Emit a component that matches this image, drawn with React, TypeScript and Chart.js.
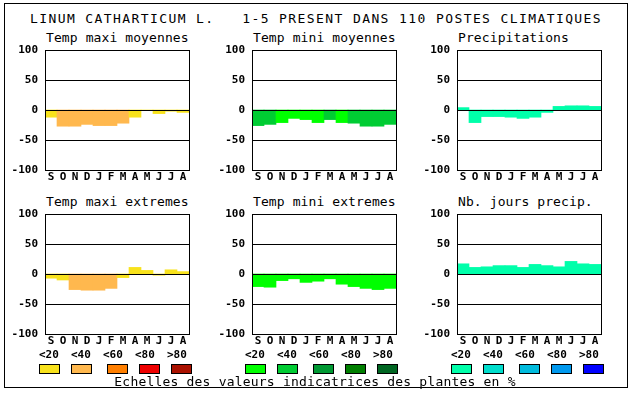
import React, { useEffect, useRef } from 'react';
import { Chart, registerables } from 'chart.js';

Chart.register(...registerables);

// ---------- data ----------
const months = ['S', 'O', 'N', 'D', 'J', 'F', 'M', 'A', 'M', 'J', 'J', 'A'];
const yTickStep = 50;
const yMin = -100;
const yMax = 100;

const tempMaxiMoy = [-12, -27, -27, -24, -26, -26, -22, -12, 0, -6, -2, -4];
const tempMaxiMoyClass = [0, 1, 1, 1, 1, 1, 1, 0, 0, 0, 0, 0];

const tempMiniMoy = [-26, -24, -21, -14, -16, -21, -16, -21, -22, -27, -27, -24];
const tempMiniMoyClass = [1, 1, 0, 0, 0, 0, 1, 0, 1, 1, 1, 1];

const precip = [4, -21, -11, -11, -12, -14, -12, -4, 6, 7, 7, 6];
const precipClass = [0, 0, 0, 0, 0, 0, 0, 0, 0, 0, 0, 0];

const tempMaxiExt = [-7, -10, -26, -27, -27, -24, -6, 11, 6, -2, 7, 4];
const tempMaxiExtClass = [0, 0, 1, 1, 1, 1, 0, 0, 0, 0, 0, 0];

const tempMiniExt = [-21, -22, -11, -8, -14, -12, -8, -17, -21, -24, -26, -24];
const tempMiniExtClass = [0, 0, 0, 0, 0, 0, 0, 0, 0, 0, 0, 0];

const nbJoursPrecip = [17, 11, 12, 14, 14, 11, 16, 14, 12, 21, 17, 16];
const nbJoursPrecipClass = [0, 0, 0, 0, 0, 0, 0, 0, 0, 0, 0, 0];

const tempColors = ['#f8e21c', '#ffb84e', '#ff7f00', '#ee0000', '#aa1100'];
const greenColors = ['#00ff00', '#00cc33', '#009933', '#007f00', '#006622'];
const blueColors = ['#00ffaa', '#00ddcc', '#00bbdd', '#0099ee', '#0000ff'];
const legendLabels = ['<20', '<40', '<60', '<80', '>80'];

const mainTitle = 'LINUM CATHARTICUM L.   1-5 PRESENT DANS 110 POSTES CLIMATIQUES';
const footer = 'Echelles des valeurs indicatrices des plantes en %';

// ---------- layout ----------
const PLOT_W = 144;
const PLOT_H = 120;
const YW = 40;
const PAD_T = 15;
const PAD_R = 3;
const XH = 18;

const panels = [
  { title: 'Temp maxi moyennes', values: tempMaxiMoy, classes: tempMaxiMoyClass, palette: tempColors, left: 45, top: 50 },
  { title: 'Temp mini moyennes', values: tempMiniMoy, classes: tempMiniMoyClass, palette: greenColors, left: 252, top: 50 },
  { title: 'Precipitations', values: precip, classes: precipClass, palette: blueColors, left: 457, top: 50 },
  { title: 'Temp maxi extremes', values: tempMaxiExt, classes: tempMaxiExtClass, palette: tempColors, left: 45, top: 214 },
  { title: 'Temp mini extremes', values: tempMiniExt, classes: tempMiniExtClass, palette: greenColors, left: 252, top: 214 },
  { title: 'Nb. jours precip.', values: nbJoursPrecip, classes: nbJoursPrecipClass, palette: blueColors, left: 457, top: 214 },
];

const legendGroups = [
  { palette: tempColors, left: 39 },
  { palette: greenColors, left: 245 },
  { palette: blueColors, left: 451 },
];
const labelOffsets = [0, 32, 64, 96, 128];
const boxOffsets = [0, 32, 68, 100, 132];

const MONO = "'DejaVu Sans Mono', monospace";

const framePlugin = {
  id: 'frame',
  afterDatasetsDraw(chart: any) {
    const { ctx, chartArea } = chart;
    const y = chart.scales.y;
    ctx.save();
    ctx.strokeStyle = '#000';
    ctx.lineWidth = 1;
    ctx.beginPath();
    [-50, 0, 50].forEach((v) => {
      const py = Math.round(y.getPixelForValue(v)) + 0.5;
      ctx.moveTo(chartArea.left, py);
      ctx.lineTo(chartArea.right + 1, py);
    });
    ctx.stroke();
    ctx.strokeRect(
      Math.round(chartArea.left) + 0.5,
      Math.round(chartArea.top) + 0.5,
      Math.round(chartArea.right - chartArea.left),
      Math.round(chartArea.bottom - chartArea.top)
    );
    ctx.restore();
  },
};

function Panel(props: any) {
  const { title, values, classes, palette, left, top } = props;
  const ref = useRef<HTMLCanvasElement>(null);
  useEffect(() => {
    const chart = new Chart(ref.current as HTMLCanvasElement, {
      type: 'bar',
      data: {
        labels: months,
        datasets: [
          {
            data: values,
            backgroundColor: classes.map((c: number) => palette[c]),
            borderWidth: 0,
            barPercentage: 1,
            categoryPercentage: 1,
          },
        ],
      },
      options: {
        responsive: false,
        animation: false,
        devicePixelRatio: 1,
        layout: { padding: { left: 0, top: PAD_T, right: PAD_R, bottom: 0 } },
        plugins: {
          legend: { display: false },
          tooltip: { enabled: false },
          title: { display: false },
        },
        scales: {
          x: {
            grid: { display: false, drawTicks: false },
            border: { display: false },
            ticks: {
              color: '#000',
              font: { family: MONO, size: 11, weight: 'bold' },
              padding: 1,
              autoSkip: false,
              maxRotation: 0,
            },
            afterFit: (s: any) => {
              s.height = XH;
            },
          },
          y: {
            min: yMin,
            max: yMax,
            grid: { display: false, drawTicks: false },
            border: { display: false },
            ticks: {
              stepSize: yTickStep,
              color: '#000',
              font: { family: MONO, size: 11, weight: 'bold' },
              padding: 7,
            },
            afterFit: (s: any) => {
              s.width = YW;
            },
          },
        },
      } as any,
      plugins: [framePlugin],
    });
    return () => chart.destroy();
  }, []);
  return (
    <>
      <div
        style={{
          position: 'absolute',
          left: left + 1,
          top: top - 20,
          font: `13px ${MONO}`,
          lineHeight: '15px',
          whiteSpace: 'pre',
          color: '#000',
          letterSpacing: '0.1px',
        }}
      >
        {title}
      </div>
      <canvas
        ref={ref}
        width={YW + PLOT_W + PAD_R}
        height={PAD_T + PLOT_H + XH}
        style={{
          position: 'absolute',
          left: left - YW,
          top: top - PAD_T,
          width: YW + PLOT_W + PAD_R,
          height: PAD_T + PLOT_H + XH,
        }}
      />
    </>
  );
}

export default function App() {
  return (
    <div style={{ position: 'absolute', left: 0, top: 0, width: 630, height: 394, background: '#fff' }}>
      <div
        style={{
          position: 'absolute',
          left: 4,
          top: 3,
          width: 624,
          height: 385,
          border: '1px solid #000',
          boxSizing: 'border-box',
        }}
      />
      <div
        style={{
          position: 'absolute',
          left: 30,
          top: 11,
          font: `13px ${MONO}`,
          lineHeight: '15px',
          letterSpacing: '1.4px',
          whiteSpace: 'pre',
          color: '#000',
        }}
      >
        {mainTitle}
      </div>
      {panels.map((p, i) => (
        <Panel key={i} {...p} />
      ))}
      {legendGroups.map((g, gi) => (
        <React.Fragment key={gi}>
          {legendLabels.map((l, i) => (
            <div
              key={'l' + i}
              style={{
                position: 'absolute',
                left: g.left + labelOffsets[i],
                top: 348,
                font: `bold 11px ${MONO}`,
                lineHeight: '13px',
                whiteSpace: 'pre',
                color: '#000',
              }}
            >
              {l}
            </div>
          ))}
          {g.palette.map((c, i) => (
            <div
              key={'b' + i}
              style={{
                position: 'absolute',
                left: g.left + boxOffsets[i],
                top: 364,
                width: 21,
                height: 10,
                background: c,
                border: '1px solid #000',
                boxSizing: 'border-box',
              }}
            />
          ))}
        </React.Fragment>
      ))}
      <div
        style={{
          position: 'absolute',
          left: 0,
          width: 630,
          top: 374,
          textAlign: 'center',
          font: `13px ${MONO}`,
          lineHeight: '15px',
          letterSpacing: '0.2px',
          whiteSpace: 'pre',
          color: '#000',
        }}
      >
        {footer}
      </div>
    </div>
  );
}
